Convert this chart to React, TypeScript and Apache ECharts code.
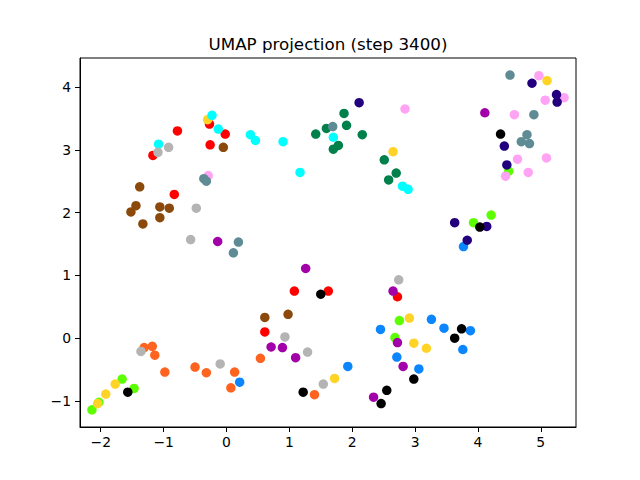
import { useEffect, useRef } from "react";
import * as echarts from "echarts";

const xTicks = [-2, -1, 0, 1, 2, 3, 4, 5];
const yTicks = [-1, 0, 1, 2, 3, 4];
const titleText = "UMAP projection (step 3400)";

const redPts = [[-0.78, 3.30], [-0.27, 3.41], [-0.02, 3.25], [-1.17, 2.91], [-0.26, 3.08], [-0.83, 2.29], [1.08, 0.75], [1.62, 0.75], [0.61, 0.10], [2.72, 0.66]];
const orangePts = [[-1.31, -0.15], [-1.18, -0.13], [-1.14, -0.27], [-0.98, -0.54], [-0.50, -0.46], [-0.32, -0.55], [0.13, -0.54], [0.07, -0.79], [0.54, -0.32], [1.40, -0.90]];
const limePts = [[4.49, 2.66], [4.21, 1.96], [3.93, 1.84], [-1.66, -0.65], [-1.47, -0.80], [-2.03, -1.02], [-2.14, -1.14], [2.75, 0.28], [2.68, 0.01]];
const greenPts = [[1.87, 3.58], [1.91, 3.39], [1.59, 3.34], [1.42, 3.25], [2.16, 3.24], [1.78, 3.07], [1.70, 3.01], [2.51, 2.84], [2.70, 2.63], [2.58, 2.52]];
const pinkPts = [[-0.29, 2.59], [2.84, 3.65], [4.97, 4.18], [5.37, 3.83], [5.07, 3.79], [4.58, 3.56], [4.63, 2.85], [5.09, 2.87], [4.44, 2.58], [4.80, 2.64]];
const goldPts = [[-0.30, 3.48], [2.65, 2.97], [5.10, 4.10], [-1.77, -0.73], [-1.92, -0.89], [-2.05, -1.04], [1.72, -0.64], [2.91, 0.32], [2.98, -0.08], [3.18, -0.16]];
const cyanPts = [[-0.23, 3.55], [-0.13, 3.33], [-1.08, 3.09], [0.38, 3.24], [0.46, 3.15], [0.90, 3.13], [1.17, 2.64], [1.70, 3.20], [2.80, 2.42], [2.89, 2.37]];
const grayPts = [[-0.92, 3.04], [-1.09, 2.96], [-0.48, 2.07], [-0.57, 1.57], [-1.36, -0.21], [-0.10, -0.41], [0.93, 0.02], [1.29, -0.22], [1.54, -0.73], [2.74, 0.93]];
const tealPts = [[-0.36, 2.54], [-0.32, 2.50], [0.19, 1.53], [0.11, 1.36], [1.69, 3.37], [4.51, 4.19], [4.89, 3.56], [4.78, 3.24], [4.69, 3.13], [4.82, 3.10]];
const bluePts = [[3.77, 1.46], [0.21, -0.70], [1.93, -0.45], [2.45, 0.14], [2.71, -0.30], [3.26, 0.30], [3.46, 0.16], [3.88, 0.12], [3.76, -0.18], [3.06, -0.49]];
const indigoPts = [[2.11, 3.75], [4.86, 4.06], [5.25, 3.88], [5.26, 3.76], [4.42, 3.06], [4.46, 2.76], [3.63, 1.84], [4.14, 1.78], [3.83, 1.56]];
const blackPts = [[4.36, 3.25], [4.03, 1.77], [-1.57, -0.86], [1.50, 0.70], [1.22, -0.86], [2.55, -0.83], [2.46, -1.04], [3.74, 0.15], [3.63, 0.00], [2.98, -0.65]];
const purplePts = [[-0.14, 1.54], [4.11, 3.59], [1.26, 1.11], [0.71, -0.14], [0.89, -0.15], [1.10, -0.31], [2.34, -0.94], [2.65, 0.75], [2.72, -0.07], [2.81, -0.45]];
const brownPts = [[-0.05, 3.04], [-1.38, 2.41], [-1.44, 2.11], [-1.52, 2.01], [-1.06, 2.09], [-0.91, 2.07], [-1.06, 1.92], [-1.33, 1.82], [0.61, 0.33], [0.98, 0.38]];

const groups: [number[][], string][] = [
  [redPts, "#ff0000"],
  [orangePts, "#ff6320"],
  [limePts, "#5cff00"],
  [greenPts, "#00804a"],
  [pinkPts, "#ffa3f5"],
  [goldPts, "#ffd426"],
  [cyanPts, "#00ffff"],
  [grayPts, "#b4b4b4"],
  [tealPts, "#5f8b94"],
  [bluePts, "#0b86ff"],
  [indigoPts, "#23007e"],
  [blackPts, "#000000"],
  [purplePts, "#a200a8"],
  [brownPts, "#8b4a0b"],
];

const fmt = (v: number) => (v < 0 ? "\u2212" + Math.abs(v) : String(v));
const FONT = "DejaVu Sans";

export default function App() {
  const ref = useRef<HTMLDivElement>(null);
  useEffect(() => {
    if (!ref.current) return;
    const chart = echarts.init(ref.current, undefined, { renderer: "svg" });
    chart.setOption({
      animation: false,
      backgroundColor: "#ffffff",
      grid: {
        left: 80,
        top: 58,
        width: 496,
        height: 369,
        show: true,
        borderColor: "#000",
        borderWidth: 1,
        backgroundColor: "transparent",
      },
      graphic: [
        {
          type: "text",
          x: 328,
          y: 44,
          style: {
            text: titleText,
            fontFamily: FONT,
            fontSize: 16.7,
            fill: "#000",
            textAlign: "center",
            textVerticalAlign: "middle",
          },
        },
      ],
      xAxis: {
        type: "value",
        min: -2.33,
        max: 5.56,
        splitLine: { show: false },
        axisLine: { show: true, onZero: false, lineStyle: { color: "#000", width: 1 } },
        axisTick: { show: true, customValues: xTicks, length: 5, lineStyle: { color: "#000", width: 1 } },
        axisLabel: {
          customValues: xTicks,
          formatter: fmt,
          color: "#000",
          fontFamily: FONT,
          fontSize: 13.9,
          margin: 8,
        },
      },
      yAxis: {
        type: "value",
        min: -1.414,
        max: 4.462,
        splitLine: { show: false },
        axisLine: { show: true, onZero: false, lineStyle: { color: "#000", width: 1 } },
        axisTick: { show: true, customValues: yTicks, length: 5, lineStyle: { color: "#000", width: 1 } },
        axisLabel: {
          customValues: yTicks,
          formatter: fmt,
          color: "#000",
          fontFamily: FONT,
          fontSize: 13.9,
          margin: 9,
        },
      },
      series: groups.map(([pts, color]) => ({
        type: "scatter",
        data: pts,
        symbol: "circle",
        symbolSize: 9.5,
        itemStyle: { color, opacity: 1 },
        emphasis: { disabled: true },
        silent: true,
      })),
    });
    return () => chart.dispose();
  }, []);
  return (
    <div
      ref={ref}
      style={{ position: "absolute", left: 0, top: 0, width: 640, height: 480 }}
    />
  );
}
